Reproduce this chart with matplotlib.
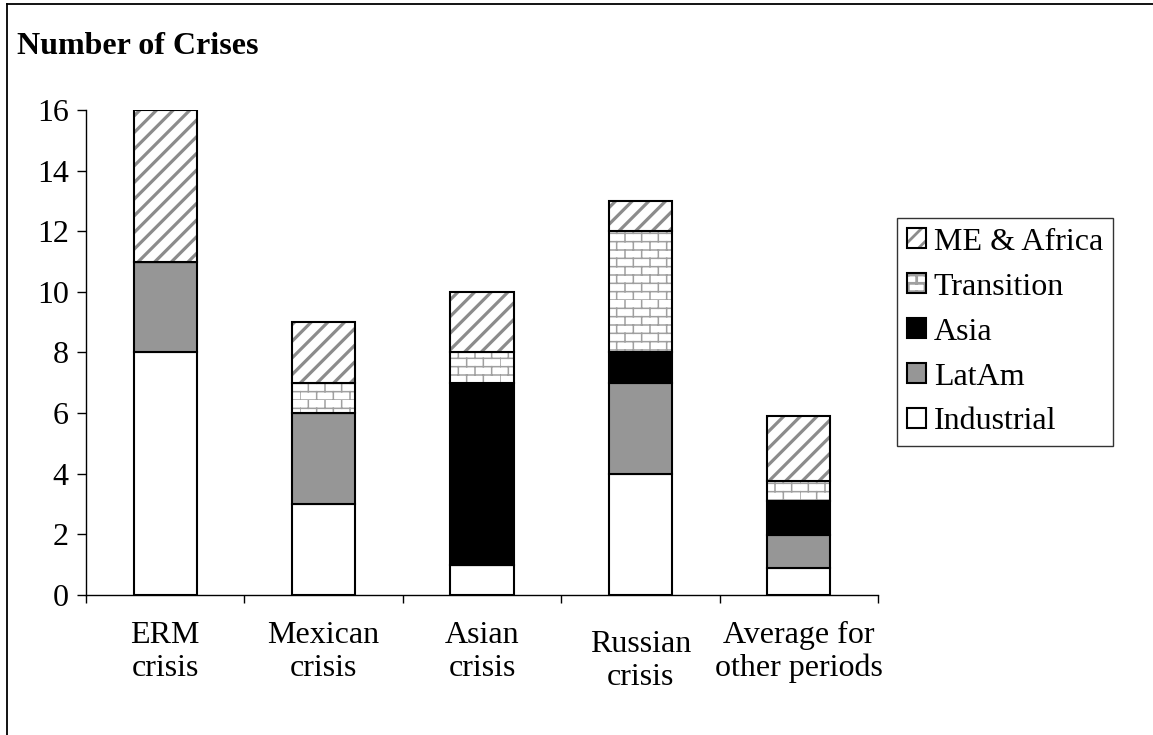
import warnings
import numpy as np
import matplotlib
matplotlib.use("Agg")
import matplotlib.pyplot as plt
import matplotlib.hatch as mhatch
from matplotlib.path import Path
from matplotlib.patches import Patch
from matplotlib.lines import Line2D
from matplotlib.ticker import FixedLocator
from matplotlib.transforms import ScaledTranslation
warnings.filterwarnings("ignore")

categories = ["ERM\ncrisis", "Mexican\ncrisis", "Asian\ncrisis", "Russian\ncrisis",
              "Average for\nother periods"]
industrial = [8, 3, 1, 4, 0.9]
latam = [3, 3, 0, 3, 1.08]
asia = [0, 0, 6, 1, 1.12]
transition = [0, 1, 1, 4, 0.65]
me_africa = [5, 2, 2, 1, 2.14]


class BrickHatch(mhatch.HatchPatternBase):
    # running-bond brick pattern for the 'b' hatch character
    def __init__(self, hatch, density):
        self.rows = 12 * hatch.count("b")
        self.cols = 6
        self.num_vertices = self.rows * (self.cols + 1) * 2

    def set_vertices_and_codes(self, vertices, codes):
        h = 1.0 / self.rows
        i = 0
        for r in range(self.rows):
            y0 = r * h
            vertices[i] = (0.0, y0)
            vertices[i + 1] = (1.0, y0)
            i += 2
            shift = 0.5 / self.cols if r % 2 else 0.0
            for c in range(self.cols):
                x = c / self.cols + shift
                vertices[i] = (x, y0)
                vertices[i + 1] = (x, y0 + h)
                i += 2
        codes[0::2] = Path.MOVETO
        codes[1::2] = Path.LINETO


mhatch._hatch_types.append(BrickHatch)

plt.rcParams["font.family"] = ["Liberation Serif", "DejaVu Serif"]
plt.rcParams["hatch.linewidth"] = 2.0

FS = 23

fig = plt.figure(figsize=(11.53, 7.35), dpi=100)
ax = fig.add_axes([0.0746, 0.1905, 0.6869, 0.6599])

x = np.arange(len(categories))
width = 0.4

# (values, face, hatch colour, hatch, hatch line width, label)
layers = [
    (industrial, "white", "black", None, 0, "Industrial"),
    (latam, "#969696", "black", None, 0, "LatAm"),
    (asia, "black", "black", None, 0, "Asia"),
    (transition, "white", "#a0a0a0", "b", 1.1, "Transition"),
    (me_africa, "white", "#8c8c8c", "//", 2.3, "ME & Africa"),
]

bottom = np.zeros(len(categories))
handles = []
for vals, fc, hc, hatch, hlw, label in layers:
    vals = np.array(vals, dtype=float)
    if hatch:
        bars = ax.bar(x, vals, width, bottom=bottom, color=fc, edgecolor=hc,
                      hatch=hatch, linewidth=0)
        for p in bars:
            if hasattr(p, "set_hatch_linewidth"):
                p.set_hatch_linewidth(hlw)
        ax.bar(x, vals, width, bottom=bottom, fill=False, edgecolor="black",
               linewidth=1.5)
        hp = Patch(facecolor=fc, edgecolor=hc, hatch=hatch, linewidth=0)
        if hasattr(hp, "set_hatch_linewidth"):
            hp.set_hatch_linewidth(hlw)
        handles.append(((hp, Patch(facecolor="none", edgecolor="black", linewidth=1.5)), label))
    else:
        ax.bar(x, vals, width, bottom=bottom, color=fc, edgecolor="black",
               linewidth=1.5)
        handles.append((Patch(facecolor=fc, edgecolor="black", linewidth=1.5), label))
    bottom += vals

ax.set_xlim(-0.5, len(categories) - 0.5)
ax.set_ylim(0, 16)
ax.set_yticks(np.arange(0, 17, 2))
ax.set_xticks(x)
ax.set_xticklabels(categories, fontsize=FS, linespacing=1.15)
ax.xaxis.set_minor_locator(FixedLocator(np.arange(-0.5, len(categories), 1.0)))

ax.tick_params(axis="y", labelsize=FS, length=6.5, width=1, pad=6, direction="out")
ax.tick_params(axis="x", which="major", length=0, pad=19)
ax.tick_params(axis="x", which="minor", length=6, width=1, direction="out")

for side in ["top", "right"]:
    ax.spines[side].set_visible(False)
for side in ["left", "bottom"]:
    ax.spines[side].set_linewidth(1)

# the Russian label sits a little lower than the others
lbl = ax.get_xticklabels()[3]
lbl.set_transform(lbl.get_transform() + ScaledTranslation(0, -0.09, fig.dpi_scale_trans))

leg = ax.legend([h for h, _ in handles][::-1], [l for _, l in handles][::-1],
                loc="upper left", bbox_to_anchor=(0.778, 0.7034),
                bbox_transform=fig.transFigure, borderaxespad=0,
                fontsize=FS, frameon=True, fancybox=False, shadow=False,
                handlelength=0.6, handleheight=0.6, handletextpad=0.25,
                labelspacing=0.5, borderpad=0.3)
leg.get_frame().set_edgecolor("black")
leg.get_frame().set_linewidth(1)

fig.text(17 / 1153, 1 - 54 / 735, "Number of Crises", fontsize=FS,
         fontweight="bold", va="baseline", ha="left")

# frame lines along the top and left edge of the image
fig.lines.append(Line2D([7 / 1153, 1.0], [1 - 4 / 735, 1 - 4 / 735],
                        transform=fig.transFigure, color="black", linewidth=1.3))
fig.lines.append(Line2D([7 / 1153, 7 / 1153], [0.0, 1 - 4 / 735],
                        transform=fig.transFigure, color="black", linewidth=1.3))

fig.savefig("out.png", dpi=100)
